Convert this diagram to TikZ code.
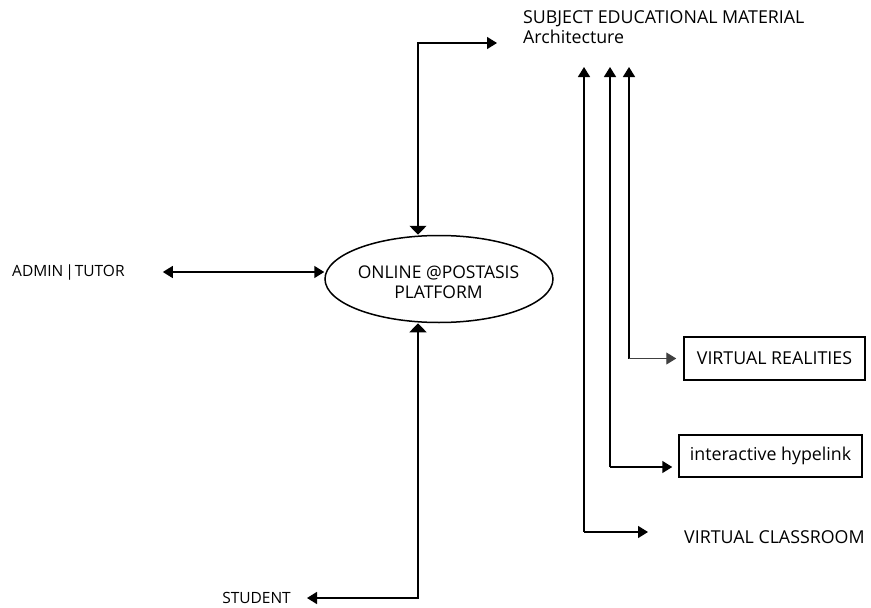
\documentclass[tikz,border=0pt]{standalone}
\usepackage{fontspec}
\setmainfont{Open Sans}
\usetikzlibrary{arrows.meta,shapes.geometric,calc}
\tikzset{atip/.tip={Triangle[length=10pt,width=12pt]},
  wtip/.tip={Triangle[length=9pt,width=17pt]}}
\begin{document}
\begin{tikzpicture}[x=1pt,y=-1pt,
  lbl/.style={inner sep=0pt,font=\fontsize{17.8}{20}\selectfont},
  smlbl/.style={inner sep=0pt,font=\fontsize{15.5}{20}\selectfont},
  boxlbl/.style={draw,line width=1.5pt,inner sep=0pt,font=\fontsize{17.8}{21}\selectfont},
  conn/.style={line width=1.5pt,-atip}]
\useasboundingbox (0,0) rectangle (871,608);
\node[lbl,anchor=north west,align=left] (subj) at (523,10) {SUBJECT EDUCATIONAL MATERIAL\\Architecture};
\node[draw,ellipse,line width=1.5pt,minimum width=228pt,minimum height=87pt,inner sep=0pt] (plat) at (439,279) {};
\node[align=center,inner sep=0pt,font=\fontsize{17.5}{19.5}\selectfont] (platlbl) at (438.5,282) {ONLINE @POSTASIS\\PLATFORM};
\node[smlbl,anchor=west] (admin) at (12,272) {ADMIN\kern2pt|\kern1pt TUTOR};
\node[smlbl,anchor=east] (student) at (291,598) {STUDENT};
\node[boxlbl,minimum width=181pt,minimum height=43pt] (vr) at (774.5,358.5) {VIRTUAL REALITIES};
\node[boxlbl,minimum width=183pt,minimum height=42pt] (ih) at (770.5,456) {interactive hypelink};
\node[lbl,anchor=west] (vc) at (684,537) {VIRTUAL CLASSROOM};
\coordinate (topend) at (497,43);
\coordinate (a1) at (584,67);
\coordinate (a2) at (610,67);
\coordinate (a3) at (629,67);
\draw[line width=1.5pt,wtip-atip] ([xshift=-21pt]plat.north) |- (topend);
\draw[line width=1.5pt,atip-atip] ([xshift=38pt]admin.east) -- (plat.west |- admin.east);
\draw[line width=1.5pt,wtip-atip] ([xshift=-21pt]plat.south) |- ([xshift=16pt]student.east);
\draw[conn] (a3 |- vr.west) -- (a3);
\draw[line width=1pt,black!75,-atip] (a3 |- vr.west) -- ([xshift=-7pt]vr.west);
\draw[conn] (a2 |- 0,467) -- (a2);
\draw[conn] (a2 |- 0,467) -- ([xshift=-6pt]ih.west |- 0,467);
\draw[conn] (a1 |- 0,532) -- (a1);
\draw[conn] (a1 |- 0,532) -- ([xshift=-36pt]vc.west |- 0,532);
\end{tikzpicture}
\end{document}
